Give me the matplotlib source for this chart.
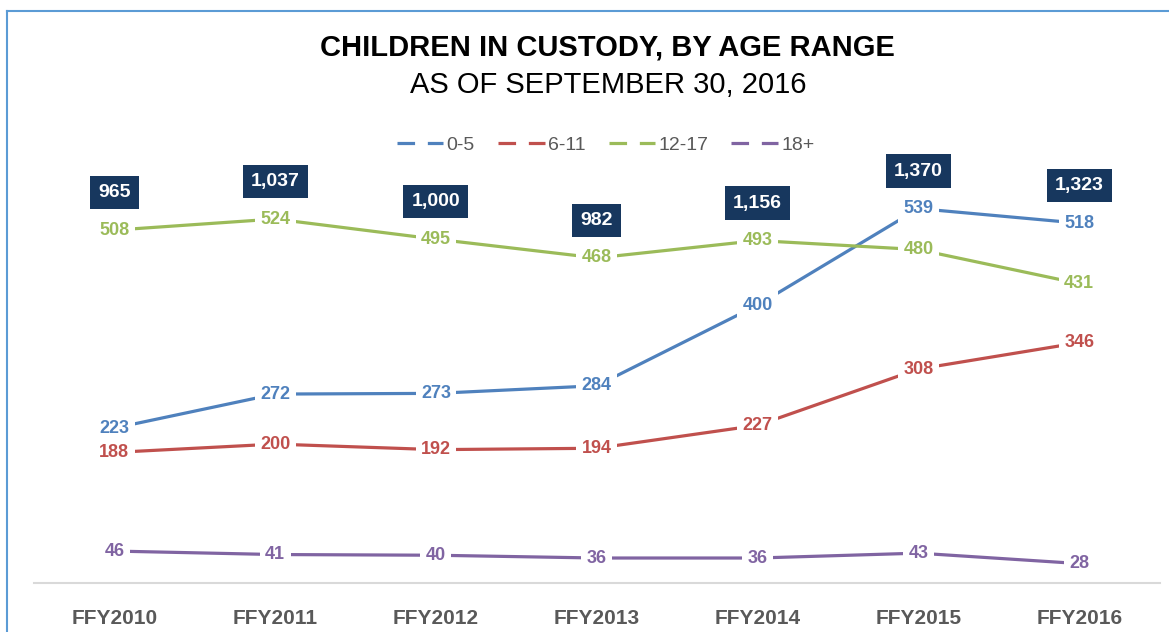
import matplotlib.pyplot as plt
from matplotlib.lines import Line2D

# Data
years = ['FFY2010', 'FFY2011', 'FFY2012', 'FFY2013', 'FFY2014', 'FFY2015', 'FFY2016']
age_0_5 = [223, 272, 273, 284, 400, 539, 518]
age_6_11 = [188, 200, 192, 194, 227, 308, 346]
age_12_17 = [508, 524, 495, 468, 493, 480, 431]
age_18_plus = [46, 41, 40, 36, 36, 43, 28]
totals = [965, 1037, 1000, 982, 1156, 1370, 1323]

series = [
    ('0-5', age_0_5, '#4F81BD'),
    ('6-11', age_6_11, '#C0504D'),
    ('12-17', age_12_17, '#9BBB59'),
    ('18+', age_18_plus, '#8064A2'),
]

plt.rcParams['font.family'] = ['Liberation Sans', 'DejaVu Sans']

fig = plt.figure(figsize=(11.69, 6.32), dpi=100)
ax = fig.add_axes([0.029, 0.0775, 0.963, 0.6595])

x = list(range(len(years)))
for name, vals, color in series:
    ax.plot(x, vals, color=color, linewidth=2.3, solid_capstyle='butt', zorder=2)
    for xi, v in zip(x, vals):
        ax.text(xi, v, str(v), ha='center', va='center', fontsize=13, fontweight='bold',
                color=color, zorder=4,
                bbox=dict(boxstyle='square,pad=0.3', facecolor='white', edgecolor='none'))

# total boxes above the highest line at each year
for xi, t in enumerate(totals):
    top = max(vals[xi] for _, vals, _ in series)
    ax.annotate(f'{t:,}', (xi, top), xytext=(0, 27), textcoords='offset points',
                ha='center', va='center', fontsize=14, fontweight='bold', color='white',
                bbox=dict(boxstyle='square,pad=0.42', facecolor='#17375E', edgecolor='none'),
                zorder=5)

ax.set_xlim(-0.5, len(years) - 0.5)
ax.set_ylim(0, 600)
ax.set_yticks([])
ax.set_xticks(x)
ax.set_xticklabels(years, fontsize=15, fontweight='bold', color='#595959')
ax.tick_params(axis='x', length=0, pad=19)
for s in ['top', 'right', 'left']:
    ax.spines[s].set_visible(False)
ax.spines['bottom'].set_color('#D9D9D9')
ax.spines['bottom'].set_linewidth(1.5)
ax.spines['bottom'].set_zorder(1)

# legend
handles = [Line2D([0], [0], color=c, linewidth=2.3, linestyle=(0, (5.5, 4))) for _, _, c in series]
fig.legend(handles, [n for n, _, _ in series], loc='center', bbox_to_anchor=(0.518, 0.77),
           ncol=4, frameon=False, fontsize=14, handlelength=2.4, handletextpad=0.15,
           columnspacing=1.2, labelcolor='#595959')

# title
fig.text(0.52, 0.925, 'CHILDREN IN CUSTODY, BY AGE RANGE', ha='center', va='center',
         fontsize=21, fontweight='bold', color='black')
fig.text(0.52, 0.866, 'AS OF SEPTEMBER 30, 2016', ha='center', va='center',
         fontsize=21, color='black')

# surrounding frame (left and top edges visible)
fig.add_artist(Line2D([0.006, 0.006], [0, 0.983], color='#5B9BD5', linewidth=1.5))
fig.add_artist(Line2D([0.006, 1], [0.983, 0.983], color='#5B9BD5', linewidth=1.5))

fig.savefig('out.png', dpi=100)
